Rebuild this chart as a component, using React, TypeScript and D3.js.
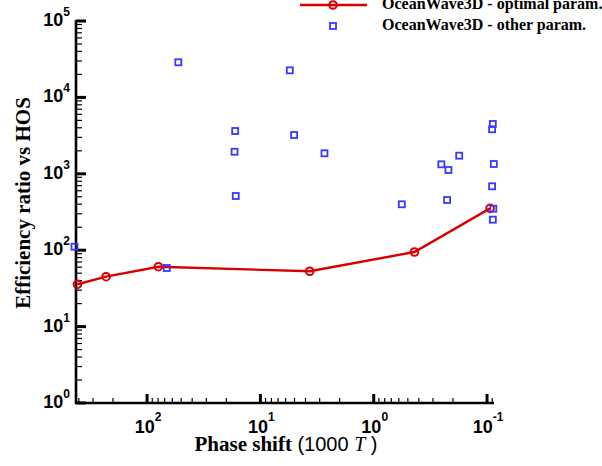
import React from "react";
import * as d3 from "d3";

// ---- Data ----
const optimalPhase = [412, 230, 79.5, 3.67, 0.437, 0.094];
const optimalRatio = [35.8, 45, 60.8, 53, 94.7, 353];

const otherPhase = [
  53, 5.5, 16.7, 5.04, 16.9, 16.5, 2.72, 0.0889, 0.0902, 0.176, 0.253, 0.219,
  0.0871, 0.0902, 0.565, 0.225, 0.088, 0.0889, 437, 67,
];
const otherRatio = [
  28800, 22600, 3630, 3220, 1945, 512, 1855, 4486, 3822, 1726, 1331, 1121,
  1343, 686, 399, 454, 349, 251, 111, 58.5,
];

const xExponents = [2, 1, 0, -1];
const yExponents = [0, 1, 2, 3, 4, 5];
const legendLabels = ["OceanWave3D - optimal param.", "OceanWave3D - other param."];

const W = 602;
const H = 466;
const left = 76;
const right = 494;
const top = 21;
const bottom = 403;

const RED = "#d80000";
const BLUE = "#3838ff";

export default function App() {
  const x = d3.scaleLog().domain([424, 0.0868]).range([left, right]);
  const y = d3.scaleLog().domain([1, 1e5]).range([bottom, top]);

  const isMajor = (v: number) => Math.abs(Math.log10(v) - Math.round(Math.log10(v))) < 1e-9;
  const xTicks = x.ticks();
  const yTicks = y.ticks();

  const line = d3
    .line<number>()
    .x((_, i) => x(optimalPhase[i]))
    .y((d) => y(d));

  const sq = 6;
  const sans = "'Liberation Sans', Arial, Helvetica, sans-serif";
  const serif = "'Liberation Serif', 'Times New Roman', Times, serif";

  return (
    <svg
      width={W}
      height={H}
      style={{ position: "absolute", left: 0, top: 0, background: "#fff" }}
    >
      {/* axes lines */}
      <line x1={left} x2={left} y1={top - 1} y2={bottom + 1} stroke="#000" strokeWidth={2.6} />
      <line x1={left - 1} x2={right} y1={bottom} y2={bottom} stroke="#000" strokeWidth={2.6} />

      {/* x ticks */}
      {xTicks.map((t, i) => {
        const maj = isMajor(t);
        return (
          <line
            key={"xt" + i}
            x1={x(t)}
            x2={x(t)}
            y1={bottom}
            y2={bottom - (maj ? 9 : 5)}
            stroke="#000"
            strokeWidth={maj ? 3 : 1.2}
          />
        );
      })}
      {/* y ticks */}
      {yTicks.map((t, i) => {
        const maj = isMajor(t);
        return (
          <line
            key={"yt" + i}
            x1={left}
            x2={left + (maj ? 10 : 6)}
            y1={y(t)}
            y2={y(t)}
            stroke="#000"
            strokeWidth={maj ? 3 : 1.2}
          />
        );
      })}

      {/* x tick labels */}
      {xExponents.map((e) => (
        <text
          key={"xl" + e}
          x={x(Math.pow(10, e)) + 1}
          y={bottom + 30}
          textAnchor="middle"
          fontFamily={sans}
          fontWeight="bold"
          fontSize={18}
        >
          10
          <tspan dy={-12} fontSize={12}>
            {String(e)}
          </tspan>
        </text>
      ))}
      {/* y tick labels */}
      {yExponents.map((e) => (
        <text
          key={"yl" + e}
          x={left - 6}
          y={y(Math.pow(10, e)) + 5}
          textAnchor="end"
          fontFamily={sans}
          fontWeight="bold"
          fontSize={18}
        >
          10
          <tspan dy={-10} fontSize={12}>
            {String(e)}
          </tspan>
        </text>
      ))}

      {/* axis titles */}
      <text
        transform={`translate(30,${(top + bottom) / 2 - 9}) rotate(-90)`}
        textAnchor="middle"
        fontFamily={serif}
        fontWeight="bold"
        fontSize={21}
      >
        Efficiency ratio vs HOS
      </text>
      <text x={(left + right) / 2 + 1} y={451} textAnchor="middle" fontSize={20}>
        <tspan fontFamily={serif} fontWeight="bold" fontSize={21}>
          Phase shift
        </tspan>
        <tspan fontFamily={sans}> (1000 </tspan>
        <tspan fontFamily={serif} fontStyle="italic">
          T
        </tspan>
        <tspan fontFamily={sans}> )</tspan>
      </text>

      {/* optimal line */}
      <path d={line(optimalRatio) || ""} fill="none" stroke={RED} strokeWidth={2.4} />
      {optimalRatio.map((v, i) => (
        <circle
          key={"c" + i}
          cx={x(optimalPhase[i])}
          cy={y(v)}
          r={3.8}
          fill="none"
          stroke={RED}
          strokeWidth={2}
        />
      ))}

      {/* other squares */}
      {otherRatio.map((v, i) => (
        <rect
          key={"s" + i}
          x={x(otherPhase[i]) - sq / 2}
          y={y(v) - sq / 2}
          width={sq}
          height={sq}
          fill="none"
          stroke={BLUE}
          strokeWidth={1.8}
        />
      ))}

      {/* legend */}
      <line x1={300} x2={367} y1={5} y2={5} stroke={RED} strokeWidth={2.4} />
      <circle cx={333} cy={5} r={3.8} fill="none" stroke={RED} strokeWidth={2} />
      <rect x={333 - sq / 2} y={26 - sq / 2} width={sq} height={sq} fill="none" stroke={BLUE} strokeWidth={1.8} />
      {legendLabels.map((l, i) => (
        <text
          key={"lg" + i}
          x={382}
          y={9 + i * 21}
          fontFamily={serif}
          fontWeight="bold"
          fontSize={16}
        >
          {l}
        </text>
      ))}
    </svg>
  );
}
